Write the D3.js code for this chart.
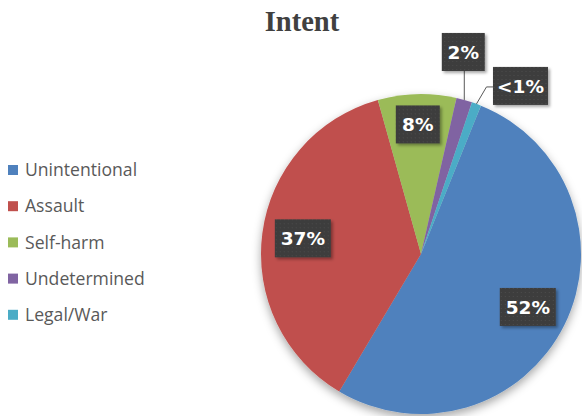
<!DOCTYPE html>
<html>
<head>
<meta charset="utf-8">
<script src="https://cdn.jsdelivr.net/npm/d3@7/dist/d3.min.js"></script>
<style>
  html, body { margin: 0; padding: 0; background: #fff; }
  svg { display: block; }
</style>
</head>
<body>
<svg id="chart"></svg>
<script>
const categories = ["Unintentional", "Assault", "Self-harm", "Undetermined", "Legal/War"];
const values = [52.4, 37.1, 7.9, 1.6, 0.95];
const labels = ["52%", "37%", "8%", "2%", "<1%"];
const colours = ["#4F81BD", "#C0504D", "#9BBB59", "#8064A2", "#4BACC6"];

const width = 582;
const height = 416;
const cx = 421;
const cy = 254;
const radius = 160;
const firstSliceAngle = 22; // degrees, clockwise from 12 o'clock

const svg = d3.select("#chart").attr("width", width).attr("height", height);
const defs = svg.append("defs");

// soft shadow under the pie
const pieShadow = defs.append("filter").attr("id", "pieShadow")
  .attr("x", "-20%").attr("y", "-20%").attr("width", "140%").attr("height", "140%");
pieShadow.append("feDropShadow")
  .attr("dx", 0).attr("dy", 4).attr("stdDeviation", 5)
  .attr("flood-color", "#000").attr("flood-opacity", 0.35);

const boxShadow = defs.append("filter").attr("id", "boxShadow")
  .attr("x", "-30%").attr("y", "-30%").attr("width", "160%").attr("height", "160%");
boxShadow.append("feDropShadow")
  .attr("dx", 2).attr("dy", 2).attr("stdDeviation", 1.5)
  .attr("flood-color", "#000").attr("flood-opacity", 0.35);

// dotted texture on the label boxes
const pat = defs.append("pattern").attr("id", "dots")
  .attr("width", 4).attr("height", 4).attr("patternUnits", "userSpaceOnUse");
pat.append("rect").attr("width", 4).attr("height", 4).attr("fill", "#3d3d3d");
pat.append("rect").attr("x", 1).attr("y", 1).attr("width", 1).attr("height", 1).attr("fill", "#4c4c4c");

// title
svg.append("text")
  .attr("x", 302).attr("y", 31)
  .attr("text-anchor", "middle")
  .attr("font-family", "Liberation Serif, Times New Roman, serif")
  .attr("font-weight", "bold")
  .attr("font-size", 28.5)
  .attr("fill", "#404040")
  .text("Intent");

const start = firstSliceAngle * Math.PI / 180;
const pie = d3.pie().sort(null).startAngle(start).endAngle(start + 2 * Math.PI);
const arcs = pie(values);
const arc = d3.arc().innerRadius(0).outerRadius(radius);

const g = svg.append("g").attr("transform", `translate(${cx},${cy})`);

g.append("g")
  .attr("filter", "url(#pieShadow)")
  .selectAll("path")
  .data(arcs)
  .join("path")
  .attr("d", arc)
  .attr("fill", (d, i) => colours[i]);

// label placement
function polar(a, r) {
  return [r * Math.sin(a), -r * Math.cos(a)];
}
const mid = (d) => (d.startAngle + d.endAngle) / 2;

const labelInfo = arcs.map((d, i) => {
  const a = mid(d);
  if (i === 0 || i === 1) {
    const [x, y] = polar(a, radius * 0.745);
    return { x, y, w: 56 };
  }
  if (i === 2) {
    const [x, y] = polar(a, radius * 0.81);
    return { x, y, w: 44 };
  }
  const [ex, ey] = polar(a, radius);
  if (i === 3) {
    return { x: ex - 1, y: ey - 48, w: 43, line: [[ex, ey], [ex, ey - 30]] };
  }
  return { x: ex + 44, y: ey - 18, w: 55, line: [[ex, ey], [ex + 10, ey - 17], [ex + 16.5, ey - 17]] };
});

g.append("g").selectAll("path")
  .data(labelInfo.filter((d) => d.line))
  .join("path")
  .attr("d", (d) => d3.line()(d.line))
  .attr("fill", "none")
  .attr("stroke", "#595959")
  .attr("stroke-width", 1);

const lab = g.append("g").selectAll("g")
  .data(labelInfo)
  .join("g")
  .attr("transform", (d) => `translate(${d.x},${d.y})`);

lab.append("rect")
  .attr("x", (d) => -d.w / 2)
  .attr("y", -19)
  .attr("width", (d) => d.w)
  .attr("height", 38)
  .attr("fill", "url(#dots)")
  .attr("filter", "url(#boxShadow)");

lab.append("text")
  .attr("text-anchor", "middle")
  .attr("dy", "0.36em")
  .attr("font-family", "DejaVu Sans, sans-serif")
  .attr("font-weight", "bold")
  .attr("font-size", 18.5)
  .attr("fill", "#fff")
  .text((d, i) => labels[i]);

// legend
const legend = svg.append("g").attr("transform", "translate(8,170)");
const row = legend.selectAll("g")
  .data(categories)
  .join("g")
  .attr("transform", (d, i) => `translate(0,${i * 36.2})`);
row.append("rect")
  .attr("x", 0).attr("y", -5)
  .attr("width", 10).attr("height", 10)
  .attr("fill", (d, i) => colours[i]);
row.append("text")
  .attr("x", 17)
  .attr("dy", "0.35em")
  .attr("font-family", "Open Sans, sans-serif")
  .attr("font-size", 17.6)
  .attr("fill", "#595959")
  .text((d) => d);
</script>
</body>
</html>
